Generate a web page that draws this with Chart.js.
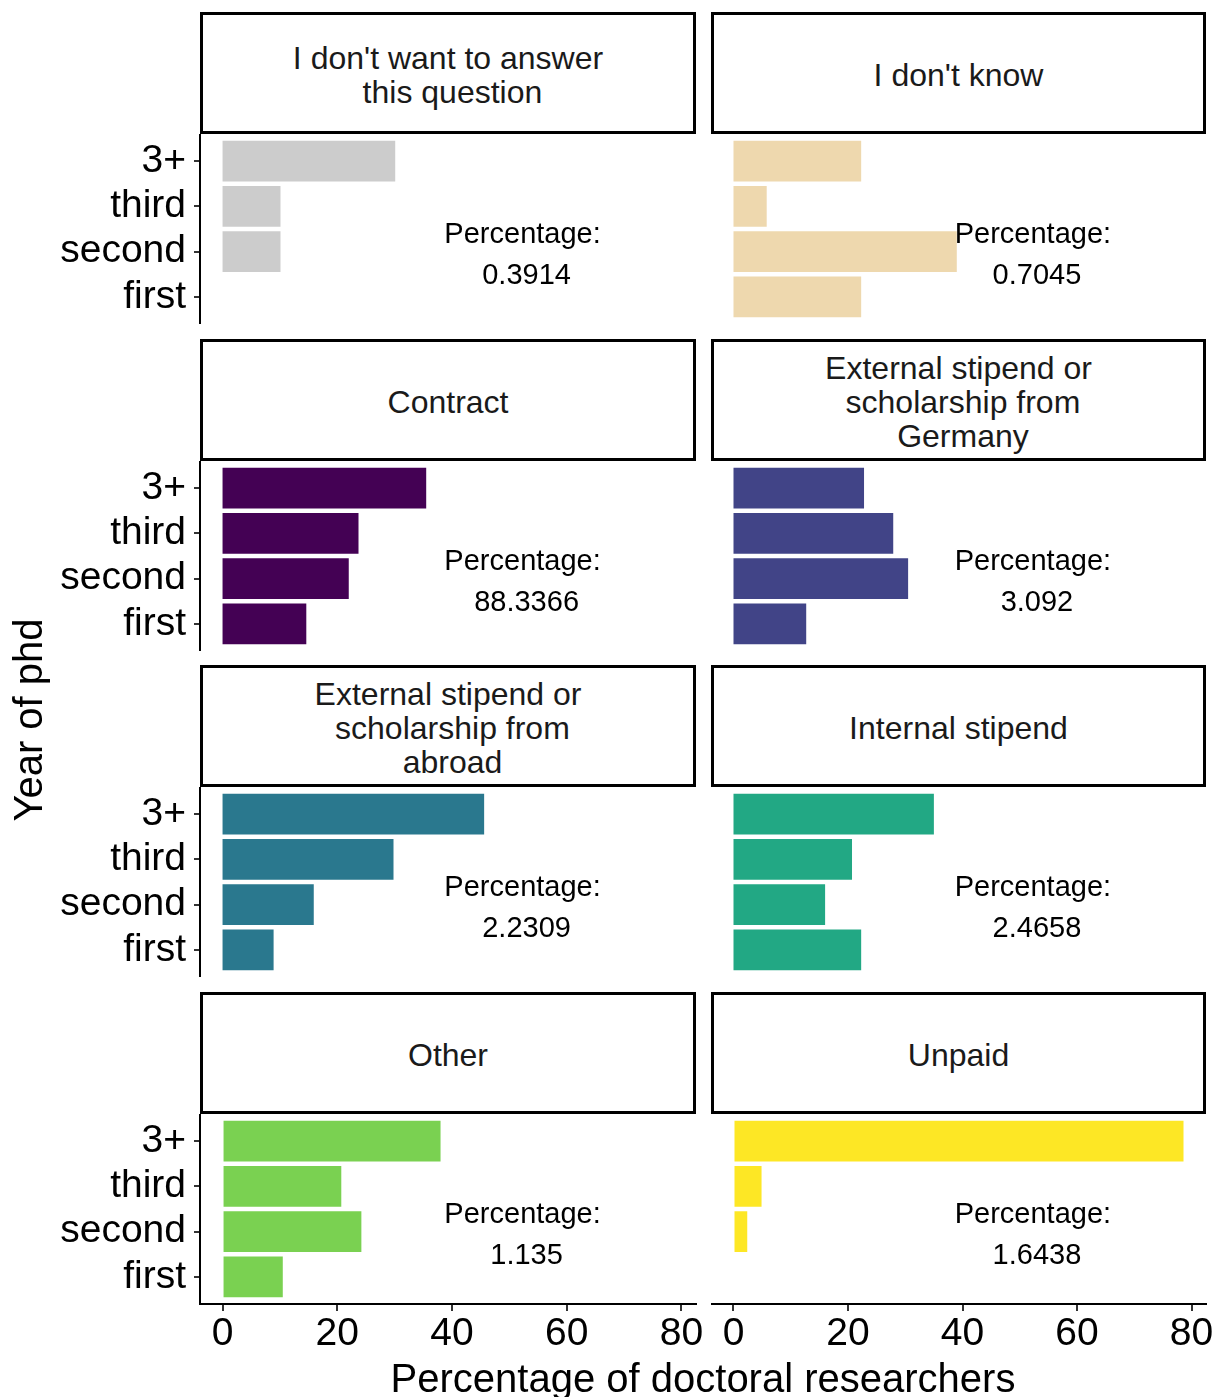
<!DOCTYPE html>
<html>
<head>
<meta charset="utf-8">
<script src="https://cdn.jsdelivr.net/npm/chart.js@4"></script>
<style>
  body { margin: 0; background: #fff; }
  #plot { position: relative; width: 1215px; height: 1397px; background: #fff; font-family: 'Liberation Sans', Arial, sans-serif; overflow: hidden; }
  .strip {
    position: absolute; box-sizing: border-box; border: 3px solid #000; background: #fff;
    display: flex; align-items: center; justify-content: center; text-align: center;
    font-size: 32px; line-height: 34px; color: #1a1a1a; white-space: pre; padding-top: 3px;
  }
  .panel { position: absolute; display: block; }
  .title { position: absolute; font-size: 40px; line-height: 40px; color: #000; white-space: nowrap; text-align: center; }
</style>
</head>
<body>
<div id="plot"></div>
<script>
const yearLabels = ['3+', 'third', 'second', 'first'];
const facetNames = [
    "I don't want to answer\n this question",
    "I don't know",
    "Contract",
    "External stipend or\n scholarship from\n Germany",
    "External stipend or\n scholarship from\n abroad",
    "Internal stipend",
    "Other",
    "Unpaid"
];
const noAnswer   = [30.1, 10.1, 10.1, 0];
const dontKnow   = [22.3, 5.8, 39.0, 22.3];
const contract   = [35.5, 23.7, 22.0, 14.6];
const extGermany = [22.8, 27.9, 30.5, 12.7];
const extAbroad  = [45.6, 29.8, 15.9, 8.9];
const internal   = [35.0, 20.7, 16.0, 22.3];
const other      = [38.0, 20.7, 24.2, 10.5];
const unpaid     = [78.6, 4.9, 2.4, 0];
const shares = ['0.3914', '0.7045', '88.3366', '3.092', '2.2309', '2.4658', '1.135', '1.6438'];
const xTicks = [0, 20, 40, 60, 80];
const colors = ['#CCCCCC', '#EED8AE', '#440154', '#414487', '#2A788E', '#22A884', '#7AD151', '#FDE725'];

const series = [noAnswer, dontKnow, contract, extGermany, extAbroad, internal, other, unpaid];

Chart.defaults.font.family = "'Liberation Sans', Arial, sans-serif";
Chart.defaults.color = '#000';

const plot = document.getElementById('plot');

// x range with ggplot-like 5% expansion
const maxVal = Math.max(...series.flat());
const xMin = -0.05 * maxVal;
const xMax = 1.05 * maxVal;

const colLeft = [200, 711];
const colRight = [696, 1206];
const canvasRight = [711, 1215];
const stripTops = [12, 339, 665, 992];
const stripH = 122;
const panelH = 190;
const yAxisW = 200;
const xAxisH = 70;

const shareLabel = {
    id: 'shareLabel',
    afterDatasetsDraw(chart, args, opts) {
        const ctx = chart.ctx;
        const x = chart.scales.x.getPixelForValue(53);
        const y = chart.scales.y.getPixelForValue(2);
        ctx.save();
        ctx.font = "29px 'Liberation Sans', Arial, sans-serif";
        ctx.fillStyle = '#000';
        ctx.textAlign = 'center';
        ctx.textBaseline = 'middle';
        ctx.fillText('Percentage: ', x, y - 17);
        ctx.fillText(opts.text, x, y + 24);
        ctx.restore();
    }
};

function noPad(s) {
    s.paddingTop = 0;
    s.paddingBottom = 0;
    s.paddingLeft = 0;
    s.paddingRight = 0;
}

facetNames.forEach((name, i) => {
    const col = i % 2;
    const row = Math.floor(i / 2);
    const isLeft = col === 0;
    const isBottom = row === 3;

    const strip = document.createElement('div');
    strip.className = 'strip';
    strip.style.left = colLeft[col] + 'px';
    strip.style.top = stripTops[row] + 'px';
    strip.style.width = (colRight[col] - colLeft[col]) + 'px';
    strip.style.height = stripH + 'px';
    strip.textContent = name;
    plot.appendChild(strip);

    const left = isLeft ? colLeft[col] - yAxisW : colLeft[col];
    const width = canvasRight[col] - left;
    const top = stripTops[row] + stripH;
    const height = panelH + (isBottom ? xAxisH : 0);

    const canvas = document.createElement('canvas');
    canvas.className = 'panel';
    canvas.width = width;
    canvas.height = height;
    canvas.style.left = left + 'px';
    canvas.style.top = top + 'px';
    canvas.style.width = width + 'px';
    canvas.style.height = height + 'px';
    plot.appendChild(canvas);

    new Chart(canvas, {
        type: 'bar',
        data: {
            datasets: [{
                data: series[i].map((v, k) => ({ x: v, y: k })),
                backgroundColor: colors[i],
                borderWidth: 0,
                categoryPercentage: 1,
                barPercentage: 0.9
            }]
        },
        options: {
            indexAxis: 'y',
            animation: false,
            responsive: false,
            devicePixelRatio: 1,
            layout: { padding: { left: 0, top: 0, bottom: 0, right: canvasRight[col] - colRight[col] }, autoPadding: false },
            plugins: {
                legend: { display: false },
                tooltip: { enabled: false },
                shareLabel: { text: shares[i] }
            },
            scales: {
                y: {
                    type: 'linear',
                    display: isLeft,
                    reverse: true,
                    offset: false,
                    min: -0.6,
                    max: 3.6,
                    afterBuildTicks: s => { s.ticks = yearLabels.map((_, k) => ({ value: k })); },
                    afterFit: s => { s.width = isLeft ? yAxisW : 0; noPad(s); },
                    ticks: {
                        callback: v => yearLabels[v],
                        font: { size: 39 },
                        color: '#000',
                        padding: 8,
                        autoSkip: false
                    },
                    grid: { offset: false, drawOnChartArea: false, drawTicks: true, tickLength: 6, color: '#333', lineWidth: 2 },
                    border: { display: true, color: '#000', width: 2 }
                },
                x: {
                    type: 'linear',
                    display: isBottom,
                    min: xMin,
                    max: xMax,
                    afterBuildTicks: s => { s.ticks = xTicks.map(v => ({ value: v })); },
                    afterFit: s => { s.height = isBottom ? xAxisH : 0; noPad(s); },
                    ticks: {
                        font: { size: 39 },
                        color: '#000',
                        padding: 0,
                        maxRotation: 0,
                        autoSkip: false
                    },
                    grid: { drawOnChartArea: false, drawTicks: true, tickLength: 7, color: '#333', lineWidth: 2 },
                    border: { display: true, color: '#000', width: 2 }
                }
            }
        },
        plugins: [shareLabel]
    });
});

const xTitle = document.createElement('div');
xTitle.className = 'title';
xTitle.style.left = '303px';
xTitle.style.width = '800px';
xTitle.style.top = '1358px';
xTitle.textContent = 'Percentage of doctoral researchers';
plot.appendChild(xTitle);

const yTitle = document.createElement('div');
yTitle.className = 'title';
yTitle.style.left = (28 - 150) + 'px';
yTitle.style.top = (720 - 20) + 'px';
yTitle.style.width = '300px';
yTitle.style.height = '40px';
yTitle.style.transform = 'rotate(-90deg)';
yTitle.textContent = 'Year of phd';
plot.appendChild(yTitle);
</script>
</body>
</html>
